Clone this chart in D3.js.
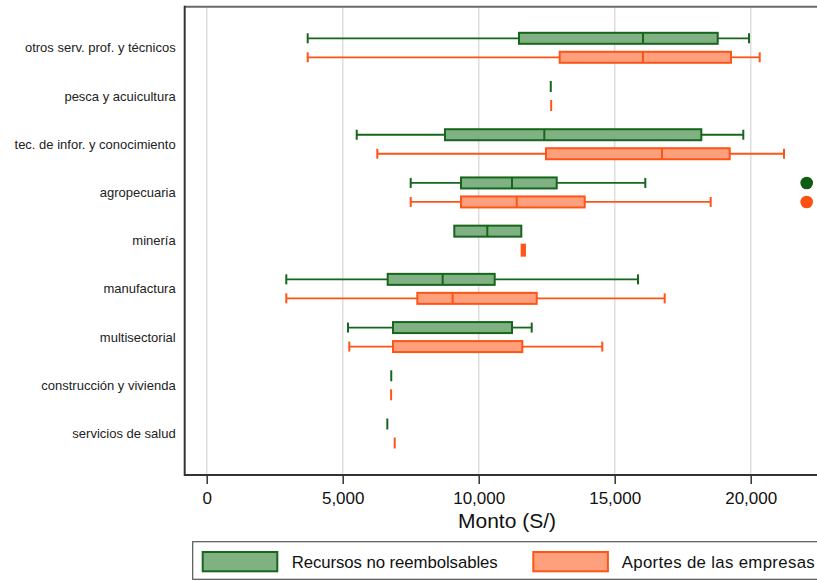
<!DOCTYPE html>
<html>
<head>
<meta charset="utf-8">
<script src="https://cdn.jsdelivr.net/npm/d3@7"></script>
<style>
  html, body { margin: 0; padding: 0; background: #fff; }
  svg { display: block; font-family: "Liberation Sans", Arial, sans-serif; }
</style>
</head>
<body>
<svg id="chart" width="817" height="581"></svg>
<script>
// Sectors, top to bottom
const categories = [
  "otros serv. prof. y técnicos",
  "pesca y acuicultura",
  "tec. de infor. y conocimiento",
  "agropecuaria",
  "minería",
  "manufactura",
  "multisectorial",
  "construcción y vivienda",
  "servicios de salud"
];

// Recursos no reembolsables: five-number summaries per sector
const recMin    = [3713, 12650, 5515, 7500,  9103, 2926, 5195, 6785, 6640];
const recQ1     = [11482, 12650, 8761, 9349, 9103, 6654, 6849, 6785, 6640];
const recMedian = [16040, 12650, 12412, 11224, 10316, 8676, 6849, 6785, 6640];
const recQ3     = [18787, 12650, 18184, 12868, 11566, 10588, 11224, 6785, 6640];
const recMax    = [19938, 12650, 19728, 16125, 11566, 15857, 11949, 6785, 6640];
const recOutliers = [[], [], [], [22059], [], [], [], [], []];

// Aportes de las empresas: five-number summaries per sector
const apoMin    = [3713, 12665, 6272, 7500, 11580, 2926, 5243, 6780, 6912];
const apoQ1     = [12978, 12665, 12474, 9349, 11580, 7743, 6849, 6780, 6912];
const apoMedian = [16040, 12665, 16739, 11397, 11640, 9044, 6849, 6780, 6912];
const apoQ3     = [19276, 12665, 19228, 13897, 11700, 12132, 11603, 6780, 6912];
const apoMax    = [20331, 12665, 21224, 18529, 11700, 16838, 14544, 6780, 6912];
const apoOutliers = [[], [], [], [22059], [], [], [], [], []];

const xTicks = [0, 5000, 10000, 15000, 20000];
const seriesNames = ["Recursos no reembolsables", "Aportes de las empresas"];

const series = [
  { name: seriesNames[0], min: recMin, q1: recQ1, med: recMedian, q3: recQ3, max: recMax, out: recOutliers,
    stroke: "#16661c", fill: "#80b182", dot: "#0d5e12", offset: -9.5 },
  { name: seriesNames[1], min: apoMin, q1: apoQ1, med: apoMedian, q3: apoQ3, max: apoMax, out: apoOutliers,
    stroke: "#ff5418", fill: "#ffa07c", dot: "#ff5014", offset: 9.5 }
];

const svg = d3.select("#chart");

const plot = { left: 184.7, top: 6.7, right: 829, bottom: 475 };

const x = d3.scaleLinear().domain([0, 20000]).range([206.7, 750.7]);
const y = d3.scalePoint().domain(categories).range([47.8, 433.5]);

// Vertical grid lines
svg.append("g").selectAll("line").data(xTicks).join("line")
  .attr("x1", d => x(d)).attr("x2", d => x(d))
  .attr("y1", plot.top).attr("y2", plot.bottom)
  .attr("stroke", "#dedede").attr("stroke-width", 1.6);

// Frame
svg.append("line").attr("x1", plot.left).attr("x2", plot.right + 10)
  .attr("y1", plot.top).attr("y2", plot.top)
  .attr("stroke", "#6a6a6a").attr("stroke-width", 2);
svg.append("line").attr("x1", plot.left).attr("x2", plot.left)
  .attr("y1", plot.top - 1).attr("y2", plot.bottom + 1)
  .attr("stroke", "#333").attr("stroke-width", 2);

// X axis
const xAxis = d3.axisBottom(x).tickValues(xTicks).tickSize(9).tickPadding(8)
  .tickFormat(d3.format(","));
const gx = svg.append("g").attr("transform", `translate(0,${plot.bottom})`).call(xAxis);
gx.select(".domain").attr("d", `M${plot.left},0H${plot.right + 10}`)
  .attr("stroke", "#333").attr("stroke-width", 2);
gx.selectAll(".tick line").attr("stroke", "#333").attr("stroke-width", 1.5);
gx.selectAll(".tick text").attr("font-size", 17).attr("fill", "#111")
  .attr("font-family", "Liberation Sans, Arial, sans-serif");

svg.append("text").attr("x", 507).attr("y", 528)
  .attr("text-anchor", "middle").attr("font-size", 21).attr("fill", "#111")
  .text("Monto (S/)");

// Y category labels
svg.append("g").selectAll("text").data(categories).join("text")
  .attr("x", 175.7).attr("y", d => y(d) + 4.5)
  .attr("text-anchor", "end").attr("font-size", 13).attr("fill", "#222")
  .text(d => d);

// Box plots
const boxH = 11, capH = 10;
series.forEach(s => {
  const g = svg.append("g");
  categories.forEach((c, i) => {
    const cy = y(c) + s.offset;
    const lo = s.min[i], q1 = s.q1[i], med = s.med[i], q3 = s.q3[i], hi = s.max[i];
    // whiskers
    if (lo < q1) {
      g.append("line").attr("x1", x(lo)).attr("x2", x(q1)).attr("y1", cy).attr("y2", cy)
        .attr("stroke", s.stroke).attr("stroke-width", 1.8);
      g.append("line").attr("x1", x(lo)).attr("x2", x(lo)).attr("y1", cy - capH / 2).attr("y2", cy + capH / 2)
        .attr("stroke", s.stroke).attr("stroke-width", 2);
    }
    if (hi > q3) {
      g.append("line").attr("x1", x(q3)).attr("x2", x(hi)).attr("y1", cy).attr("y2", cy)
        .attr("stroke", s.stroke).attr("stroke-width", 1.8);
      g.append("line").attr("x1", x(hi)).attr("x2", x(hi)).attr("y1", cy - capH / 2).attr("y2", cy + capH / 2)
        .attr("stroke", s.stroke).attr("stroke-width", 2);
    }
    // box
    g.append("rect").attr("x", x(q1)).attr("y", cy - boxH / 2)
      .attr("width", Math.max(0, x(q3) - x(q1))).attr("height", boxH)
      .attr("fill", s.fill).attr("stroke", s.stroke).attr("stroke-width", 2);
    // median
    g.append("line").attr("x1", x(med)).attr("x2", x(med)).attr("y1", cy - boxH / 2).attr("y2", cy + boxH / 2)
      .attr("stroke", s.stroke).attr("stroke-width", 2);
    // outliers
    s.out[i].forEach(v => {
      g.append("circle").attr("cx", x(v)).attr("cy", cy).attr("r", 6.3).attr("fill", s.dot);
    });
  });
});

// Legend
const leg = svg.append("g");
leg.append("rect").attr("x", 192.7).attr("y", 541.7).attr("width", 700).attr("height", 37.6)
  .attr("fill", "#fff").attr("stroke", "#555").attr("stroke-width", 1.2);
const legItems = [
  { s: series[0], sx: 201.7, tx: 291.7, w: 206 },
  { s: series[1], sx: 532.3, tx: 621.7, w: 193 }
];
legItems.forEach(it => {
  leg.append("rect").attr("x", it.sx + 1).attr("y", 552).attr("width", 74.6).attr("height", 19.3)
    .attr("fill", it.s.fill).attr("stroke", it.s.stroke).attr("stroke-width", 2);
  leg.append("text").attr("x", it.tx).attr("y", 567.8).attr("font-size", 16.8).attr("fill", "#111")
    .attr("textLength", it.w).attr("lengthAdjust", "spacing")
    .text(it.s.name);
});
</script>
</body>
</html>
